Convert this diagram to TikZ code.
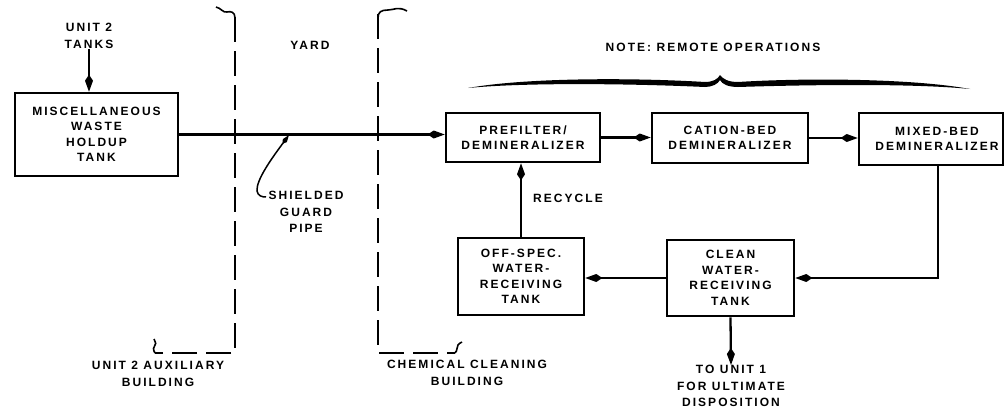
\documentclass[tikz,border=0pt]{standalone}
\usepackage{fontspec}
\setmainfont[LetterSpace=17]{Liberation Sans}
\usetikzlibrary{arrows.meta}
\begin{document}
\begin{tikzpicture}[x=1pt,y=-1pt,
 box/.style={draw,line width=2.6pt,rectangle,align=center,font=\bfseries\fontsize{12}{15.5}\selectfont,inner sep=0pt},
 lbl/.style={align=center,font=\bfseries\fontsize{12}{16.5}\selectfont,inner sep=0pt},
 pipe/.style={line width=2.3pt},
 flow/.style={pipe,-{Kite[length=17pt,width=8pt,inset=6pt]}},
 wall/.style={line width=2.3pt,dash pattern=on 25pt off 9pt},
 brk/.style={line width=1.6pt}]
\useasboundingbox (0,0) rectangle (1005,415);

% boxes
\node[box,minimum width=163pt,minimum height=83pt] (misc) at (96.5,134.5) {MISCELLANEOUS\\WASTE\\HOLDUP\\TANK};
\node[box,minimum width=154pt,minimum height=49pt] (pre) at (523,137.5) {PREFILTER/\\DEMINERALIZER};
\node[box,minimum width=156pt,minimum height=50pt] (cat) at (730,138) {CATION-BED\\DEMINERALIZER};
\node[box,minimum width=144pt,minimum height=52pt] (mix) at (931,139) {\hspace*{12pt}MIXED-BED\\\hspace*{12pt}DEMINERALIZER};
\node[box,minimum width=126pt,minimum height=77pt] (off) at (521,276.5) {OFF-SPEC.\\WATER-\\RECEIVING\\TANK};
\node[box,minimum width=127pt,minimum height=76pt] (cln) at (730.5,278) {CLEAN\\WATER-\\RECEIVING\\TANK};

% labels
\node[lbl] (tanks) at (89,36) {UNIT 2\\TANKS};
\node[lbl] (yard) at (310,45) {YARD};
\node[lbl] (note) at (713,47) {NOTE: REMOTE OPERATIONS};
\node[lbl,anchor=west] (rec) at (533,198) {RECYCLE};
\node[lbl,anchor=north] (sgp) at (306,191) {SHIELDED\\GUARD\\PIPE};
\node[lbl] (aux) at (158,374) {UNIT 2 AUXILIARY\\BUILDING};
\node[lbl] (chem) at (467,373) {CHEMICAL CLEANING\\BUILDING};
\node[lbl,anchor=north] (disp) at (731,365) {TO UNIT 1\\FOR ULTIMATE\\DISPOSITION};

% flows
\draw[flow] (tanks.south) -- (tanks.south |- misc.north);
\draw[flow] (misc.east) -- (misc.east -| pre.west);
\draw[flow] (pre.east) -- (pre.east -| cat.west);
\draw[flow] (cat.east) -- (cat.east -| mix.west);
\coordinate (mixout) at (938,0);
\draw[flow] (mixout |- mix.south) |- (cln.east);
\draw[flow] (cln.west) -- (cln.west -| off.east);
\draw[flow] (off.north) -- (off.north |- pre.south);
\draw[flow] (cln.south) -- (disp.north);

% shielded guard pipe leader
\coordinate (gp) at (289,135);
\coordinate (gpend) at (266,197);
\draw[line width=1.5pt,{Kite[length=11pt,width=5pt,inset=4pt]}-] (gp) .. controls (272,158) and (256,180) .. (257,191) .. controls (258,196) and (262,197) .. (gpend);

% building walls
\draw[wall] (235,17) -- (235,353) -- (155,353);
\draw[brk] (235,18) .. controls (235,12) and (231,11) .. (227,12) .. controls (223,13) and (221,8) .. (216,7);
\draw[brk] (155,353) .. controls (153,350) and (153,347) .. (155,345) .. controls (157,343) and (154,341) .. (154,339);
\draw[wall] (378,14) -- (378,353) -- (455,353);
\draw[brk] (378,18) .. controls (378,12) and (381,10) .. (388,10) .. controls (394,10) and (398,6) .. (407,11);
\draw[brk] (455,353) .. controls (458,350) and (456,348) .. (458,345) .. controls (459,343) and (461,343) .. (462,342);

% brace
\fill (468,88) .. controls (530,77) and (640,78) .. (705,82) .. controls (713,82) and (718,79) .. (720,75)
 .. controls (723,79) and (728,82) .. (738,82) .. controls (800,78) and (910,78) .. (970,89)
 .. controls (910,83) and (800,85) .. (738,87) .. controls (728,87) and (722,84) .. (720,80)
 .. controls (718,84) and (712,87) .. (705,87) .. controls (640,84) and (530,82) .. (468,88) -- cycle;
\end{tikzpicture}
\end{document}
